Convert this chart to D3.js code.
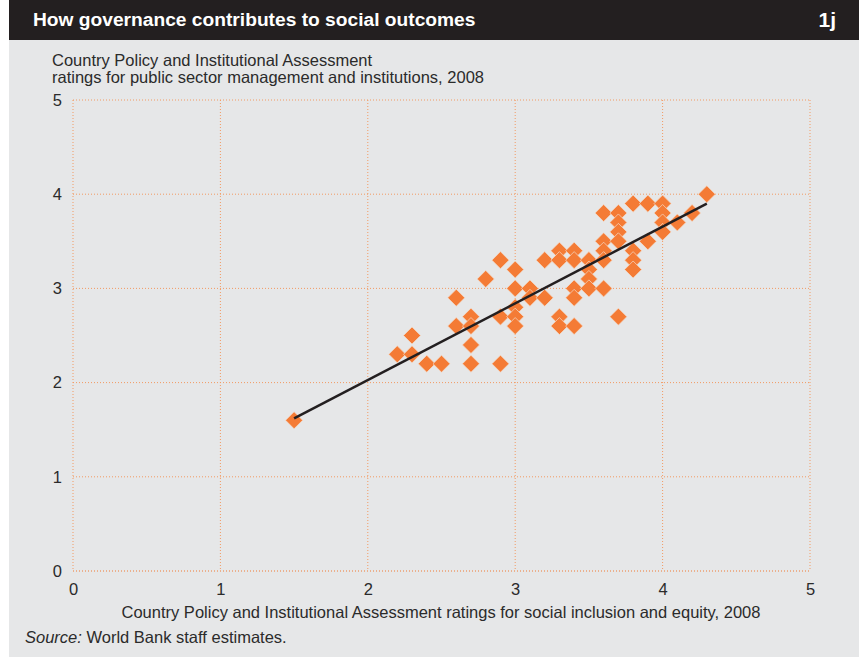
<!DOCTYPE html>
<html>
<head>
<meta charset="utf-8">
<script src="https://cdn.jsdelivr.net/npm/d3@7"></script>
<style>
  html, body { margin: 0; padding: 0; background: #ffffff; }
  svg { display: block; }
  text { font-family: "Liberation Sans", Arial, Helvetica, sans-serif; }
</style>
</head>
<body>
<svg id="chart" width="859" height="660"></svg>
<script>
// ---- data ----
const titleText = "How governance contributes to social outcomes";
const figureLabel = "1j";
const yTitleLines = ["Country Policy and Institutional Assessment", "ratings for public sector management and institutions, 2008"];
const xTitle = "Country Policy and Institutional Assessment ratings for social inclusion and equity, 2008";
const xTicks = [0, 1, 2, 3, 4, 5];
const yTicks = [0, 1, 2, 3, 4, 5];
// social inclusion and equity rating (x)
const inclusion = [1.5, 2.2, 2.3, 2.3, 2.4, 2.5, 2.6, 2.6, 2.7, 2.7, 2.7, 2.7, 2.8, 2.9, 2.9, 2.9,
  3.0, 3.0, 3.0, 3.0, 3.0, 3.1, 3.1, 3.2, 3.2, 3.3, 3.3, 3.3, 3.3,
  3.4, 3.4, 3.4, 3.4, 3.4, 3.5, 3.5, 3.5, 3.5, 3.6, 3.6, 3.6, 3.6, 3.6,
  3.7, 3.7, 3.7, 3.7, 3.7, 3.8, 3.8, 3.8, 3.8, 3.9, 3.9, 4.0, 4.0, 4.0, 4.0, 4.1, 4.2, 4.3];
// public sector management and institutions rating (y)
const governance = [1.6, 2.3, 2.5, 2.3, 2.2, 2.2, 2.9, 2.6, 2.7, 2.6, 2.4, 2.2, 3.1, 3.3, 2.7, 2.2,
  3.2, 3.0, 2.8, 2.7, 2.6, 3.0, 2.9, 3.3, 2.9, 3.4, 3.3, 2.7, 2.6,
  3.4, 3.3, 3.0, 2.9, 2.6, 3.3, 3.2, 3.1, 3.0, 3.8, 3.5, 3.4, 3.3, 3.0,
  3.8, 3.7, 3.6, 3.5, 2.7, 3.9, 3.4, 3.3, 3.2, 3.9, 3.5, 3.9, 3.8, 3.7, 3.6, 3.7, 3.8, 4.0];
// fitted trend line end points
const trendX = [1.5, 4.3];
const trendY = [1.62, 3.90];

// ---- drawing ----
const svg = d3.select("#chart");
const W = 859, H = 660;
const orange = "#f47b35";
const gridCol = "#f29a63";
const textCol = "#2b2b2b";
const fs = 16.5;

// panel + header
svg.append("rect").attr("x", 9).attr("y", 0).attr("width", W - 9).attr("height", 657).attr("fill", "#e6e7e8");
svg.append("rect").attr("x", 9).attr("y", 0).attr("width", W - 9).attr("height", 40).attr("fill", "#231f20");
svg.append("text").attr("x", 33).attr("y", 26).attr("fill", "#ffffff")
  .attr("font-size", 19.2).attr("font-weight", "bold").text(titleText);
svg.append("text").attr("x", 836).attr("y", 27).attr("fill", "#ffffff").attr("text-anchor", "end")
  .attr("font-size", 21).attr("font-weight", "bold").text(figureLabel);

// y title
svg.append("g").selectAll("text").data(yTitleLines).join("text")
  .attr("x", 52).attr("y", (d, i) => 66 + i * 17)
  .attr("font-size", fs).attr("fill", textCol).text(d => d);

const x = d3.scaleLinear().domain([0, 5]).range([73, 810]);
const y = d3.scaleLinear().domain([0, 5]).range([571, 100]);

// grid
const grid = svg.append("g");
grid.selectAll("line.v").data(xTicks).join("line")
  .attr("x1", d => x(d)).attr("x2", d => x(d)).attr("y1", y(5)).attr("y2", y(0))
  .attr("stroke", gridCol).attr("stroke-width", 1).attr("stroke-dasharray", "1,2");
grid.selectAll("line.h").data(yTicks).join("line")
  .attr("x1", x(0)).attr("x2", x(5)).attr("y1", d => y(d)).attr("y2", d => y(d))
  .attr("stroke", d => d === 0 ? "#f07a35" : gridCol).attr("stroke-width", 1).attr("stroke-dasharray", "1,2");

// axes (labels only)
const xAxis = d3.axisBottom(x).tickValues(xTicks).tickSize(0).tickPadding(12).tickFormat(d3.format("d"));
const gx = svg.append("g").attr("transform", `translate(0,${y(0)})`).call(xAxis);
gx.select(".domain").remove();
gx.selectAll("text").attr("font-size", fs).attr("fill", textCol)
  .style("font-family", '"Liberation Sans", Arial, sans-serif');

const yAxis = d3.axisLeft(y).tickValues(yTicks).tickSize(0).tickPadding(11).tickFormat(d3.format("d"));
const gy = svg.append("g").attr("transform", `translate(${x(0)},0)`).call(yAxis);
gy.select(".domain").remove();
gy.selectAll("text").attr("font-size", fs).attr("fill", textCol)
  .style("font-family", '"Liberation Sans", Arial, sans-serif');

// x title
svg.append("text").attr("x", 441).attr("y", 618).attr("text-anchor", "middle")
  .attr("font-size", fs).attr("fill", textCol).text(xTitle);

// source
const src = svg.append("text").attr("x", 25).attr("y", 643).attr("font-size", fs).attr("fill", textCol);
src.append("tspan").attr("font-style", "italic").text("Source:");
src.append("tspan").text(" World Bank staff estimates.");

// points
const pts = inclusion.map((v, i) => ({ x: v, y: governance[i] }));
const diamond = d3.symbol().type(d3.symbolDiamond2).size(185);
svg.append("g").selectAll("path").data(pts).join("path")
  .attr("transform", d => `translate(${x(d.x)},${y(d.y)})`)
  .attr("d", diamond)
  .attr("fill", orange).attr("stroke", "#f3dccb").attr("stroke-width", 0.7);

// trend line
svg.append("line")
  .attr("x1", x(trendX[0])).attr("y1", y(trendY[0]))
  .attr("x2", x(trendX[1])).attr("y2", y(trendY[1]))
  .attr("stroke", "#231f20").attr("stroke-width", 2.5);
</script>
</body>
</html>
